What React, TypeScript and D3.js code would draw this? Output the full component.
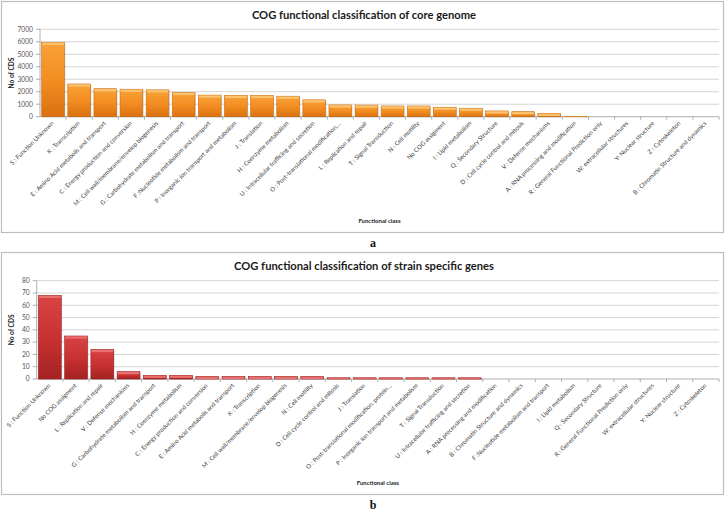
import React from "react";
import * as d3 from "d3";

const coreCategories = [
  "S : Function Unknown",
  "K : Transcription",
  "E : Amino Acid metabolis and transport",
  "C : Energy production and conversion",
  "M : Cell wall/membrane/envelop biogenesis",
  "G : Carbohydrate metabolism and transport",
  "F :Nucleotide metabolism and transport",
  "P : Inorganic ion transport and metabolism",
  "J : Translation",
  "H : Coenzyme metabolism",
  "U : Intracellular trafficing and secretion",
  "O : Post-translational modification,…",
  "L : Replication and repair",
  "T : Signal Transduction",
  "N : Cell motility",
  "No COG assigment",
  "I : Lipid metabolism",
  "Q : Secondary Structure",
  "D : Cell cycle control and mitosis",
  "V : Defense mechanisms",
  "A : RNA processing and modification",
  "R : General Functional Prediction only",
  "W: extracellular structures",
  "Y: Nuclear structure",
  "Z : Cytoskeleton",
  "B : Chromatin Structure and dynamics",
];
const coreValues = [
  5960, 2620, 2240, 2200, 2150, 1950, 1730, 1710, 1700, 1640, 1350, 940, 930,
  860, 860, 760, 680, 460, 400, 270, 30, 0, 0, 0, 0, 0,
];
const coreTicks = [0, 1000, 2000, 3000, 4000, 5000, 6000, 7000];

const strainCategories = [
  "S : Function Unknown",
  "No COG assigment",
  "L : Replication and repair",
  "V : Defense mechanisms",
  "G : Carbohydrate metabolism and transport",
  "H : Coenzyme metabolism",
  "C : Energy production and conversion",
  "E : Amino Acid metabolis and transport",
  "K : Transcription",
  "M : Cell wall/membrane/envelop biogenesis",
  "N : Cell motility",
  "D : Cell cycle control and mitosis",
  "J : Translation",
  "O : Post-translational modification, protein…",
  "P : Inorganic ion transport and metabolism",
  "T : Signal Transduction",
  "U : Intracellular trafficing and secretion",
  "A : RNA processing and modification",
  "B : Chromatin Structure and dynamics",
  "F :Nucleotide metabolism and transport",
  "I : Lipid metabolism",
  "Q : Secondary Structure",
  "R : General Functional Prediction only",
  "W: extracellular structures",
  "Y: Nuclear structure",
  "Z : Cytoskeleton",
];
const strainValues = [
  68, 35, 24, 6, 3, 3, 2, 2, 2, 2, 2, 1, 1, 1, 1, 1, 1, 0, 0, 0, 0, 0, 0, 0, 0, 0,
];
const strainTicks = [0, 10, 20, 30, 40, 50, 60, 70, 80];

const FONT = "Lato, 'Open Sans', sans-serif";

type PanelProps = {
  top: number;
  height: number;
  title: string;
  categories: string[];
  values: number[];
  ticks: number[];
  plotLeft: number;
  plotTop: number;
  plotBottom: number;
  gradId: string;
  capColor: string;
  edgeColor: string;
  letter: string;
};

function Panel(p: PanelProps) {
  const plotRight = 719;
  const x = d3
    .scaleBand<string>()
    .domain(p.categories)
    .range([p.plotLeft, plotRight])
    .paddingInner(0.13)
    .paddingOuter(0.065);
  const step = x.step();
  const y = d3
    .scaleLinear()
    .domain([0, p.ticks[p.ticks.length - 1]])
    .range([p.plotBottom, p.plotTop]);
  const cx = (p.plotLeft + plotRight) / 2;
  return (
    <g>
      <rect
        x={1.5}
        y={p.top + 0.5}
        width={722}
        height={p.height}
        fill="#fff"
        stroke="#bdbdbd"
        strokeWidth={1.2}
      />
      <text
        x={364}
        y={p.top + 18}
        textAnchor="middle"
        fontFamily={FONT}
        fontWeight="bold"
        fontSize={11.2}
        fill="#1a1a1a"
      >
        {p.title}
      </text>
      {p.ticks.map((t) => (
        <g key={t}>
          {t > 0 && (
            <line
              x1={p.plotLeft}
              x2={plotRight}
              y1={y(t)}
              y2={y(t)}
              stroke="#d4d4d4"
              strokeWidth={1}
            />
          )}
          <line
            x1={p.plotLeft - 4}
            x2={p.plotLeft}
            y1={y(t)}
            y2={y(t)}
            stroke="#9a9a9a"
            strokeWidth={0.8}
          />
          <text
            x={p.plotLeft - 7}
            y={y(t) + 2.3}
            textAnchor="end"
            fontFamily={FONT}
            fontSize={6.7}
            fill="#555"
          >
            {t}
          </text>
        </g>
      ))}
      <line
        x1={p.plotLeft}
        x2={p.plotLeft}
        y1={p.plotTop}
        y2={p.plotBottom}
        stroke="#9a9a9a"
        strokeWidth={0.8}
      />
      <line
        x1={p.plotLeft}
        x2={plotRight}
        y1={p.plotBottom}
        y2={p.plotBottom}
        stroke="#9a9a9a"
        strokeWidth={0.8}
      />
      {p.categories.map((c, i) => (
        <line
          key={"t" + i}
          x1={p.plotLeft + step * (i + 1)}
          x2={p.plotLeft + step * (i + 1)}
          y1={p.plotBottom}
          y2={p.plotBottom + 3}
          stroke="#9a9a9a"
          strokeWidth={0.8}
        />
      ))}
      {p.categories.map((c, i) => {
        const v = p.values[i];
        if (v <= 0) return null;
        const bx = x(c)!;
        const bw = x.bandwidth();
        const by = y(v);
        const bh = p.plotBottom - by;
        const cap = Math.min(2.2, bh);
        return (
          <g key={"b" + i}>
            <rect
              x={bx + 1}
              y={by + 1}
              width={bw}
              height={bh}
              fill="#000"
              opacity={0.12}
            />
            <rect
              x={bx}
              y={by}
              width={bw}
              height={bh}
              fill={`url(#${p.gradId})`}
              stroke={p.edgeColor}
              strokeWidth={0.6}
            />
            <rect x={bx + 0.5} y={by + 0.4} width={bw - 1} height={cap} fill={p.capColor} />
          </g>
        );
      })}
      {p.categories.map((c, i) => {
        const tx = x(c)! + x.bandwidth() / 2 + 1;
        const ty = p.plotBottom + 7;
        return (
          <text
            key={"l" + i}
            transform={`translate(${tx},${ty}) rotate(-45)`}
            textAnchor="end"
            fontFamily={FONT}
            fontSize={6.1}
            fill="#3a3a3a"
          >
            {c}
          </text>
        );
      })}
      <text
        transform={`translate(14,${(p.plotTop + p.plotBottom) / 2}) rotate(-90)`}
        textAnchor="middle"
        fontFamily={FONT}
        fontWeight="bold"
        fontSize={6.6}
        fill="#222"
      >
        No of CDS
      </text>
      <text
        x={cx}
        y={p.top + p.height - 9}
        textAnchor="middle"
        fontFamily={FONT}
        fontWeight="bold"
        fontSize={6}
        fill="#222"
      >
        Functional class
      </text>
      <text
        x={373}
        y={p.top + p.height + 15}
        textAnchor="middle"
        fontFamily="'Liberation Serif', 'DejaVu Serif', serif"
        fontWeight="bold"
        fontSize={12}
        fill="#111"
      >
        {p.letter}
      </text>
    </g>
  );
}

export default function App() {
  return (
    <svg
      width={728}
      height={514}
      viewBox="0 0 728 514"
      style={{ position: "absolute", left: 0, top: 0, background: "#fff" }}
    >
      <defs>
        <linearGradient id="gOrange" x1="0" y1="0" x2="0" y2="1">
          <stop offset="0" stopColor="#f9a238" />
          <stop offset="0.5" stopColor="#f28e22" />
          <stop offset="1" stopColor="#db7010" />
        </linearGradient>
        <linearGradient id="gRed" x1="0" y1="0" x2="0" y2="1">
          <stop offset="0" stopColor="#d94343" />
          <stop offset="0.5" stopColor="#c93232" />
          <stop offset="1" stopColor="#a42222" />
        </linearGradient>
      </defs>
      <Panel
        top={1}
        height={231}
        title="COG functional classification of core genome"
        categories={coreCategories}
        values={coreValues}
        ticks={coreTicks}
        plotLeft={40}
        plotTop={29.3}
        plotBottom={116.7}
        gradId="gOrange"
        capColor="#fcc470"
        edgeColor="#c96a10"
        letter="a"
      />
      <Panel
        top={252}
        height={242}
        title="COG functional classification of strain specific genes"
        categories={strainCategories}
        values={strainValues}
        ticks={strainTicks}
        plotLeft={36.7}
        plotTop={280.7}
        plotBottom={379}
        gradId="gRed"
        capColor="#e87070"
        edgeColor="#9a2020"
        letter="b"
      />
    </svg>
  );
}
